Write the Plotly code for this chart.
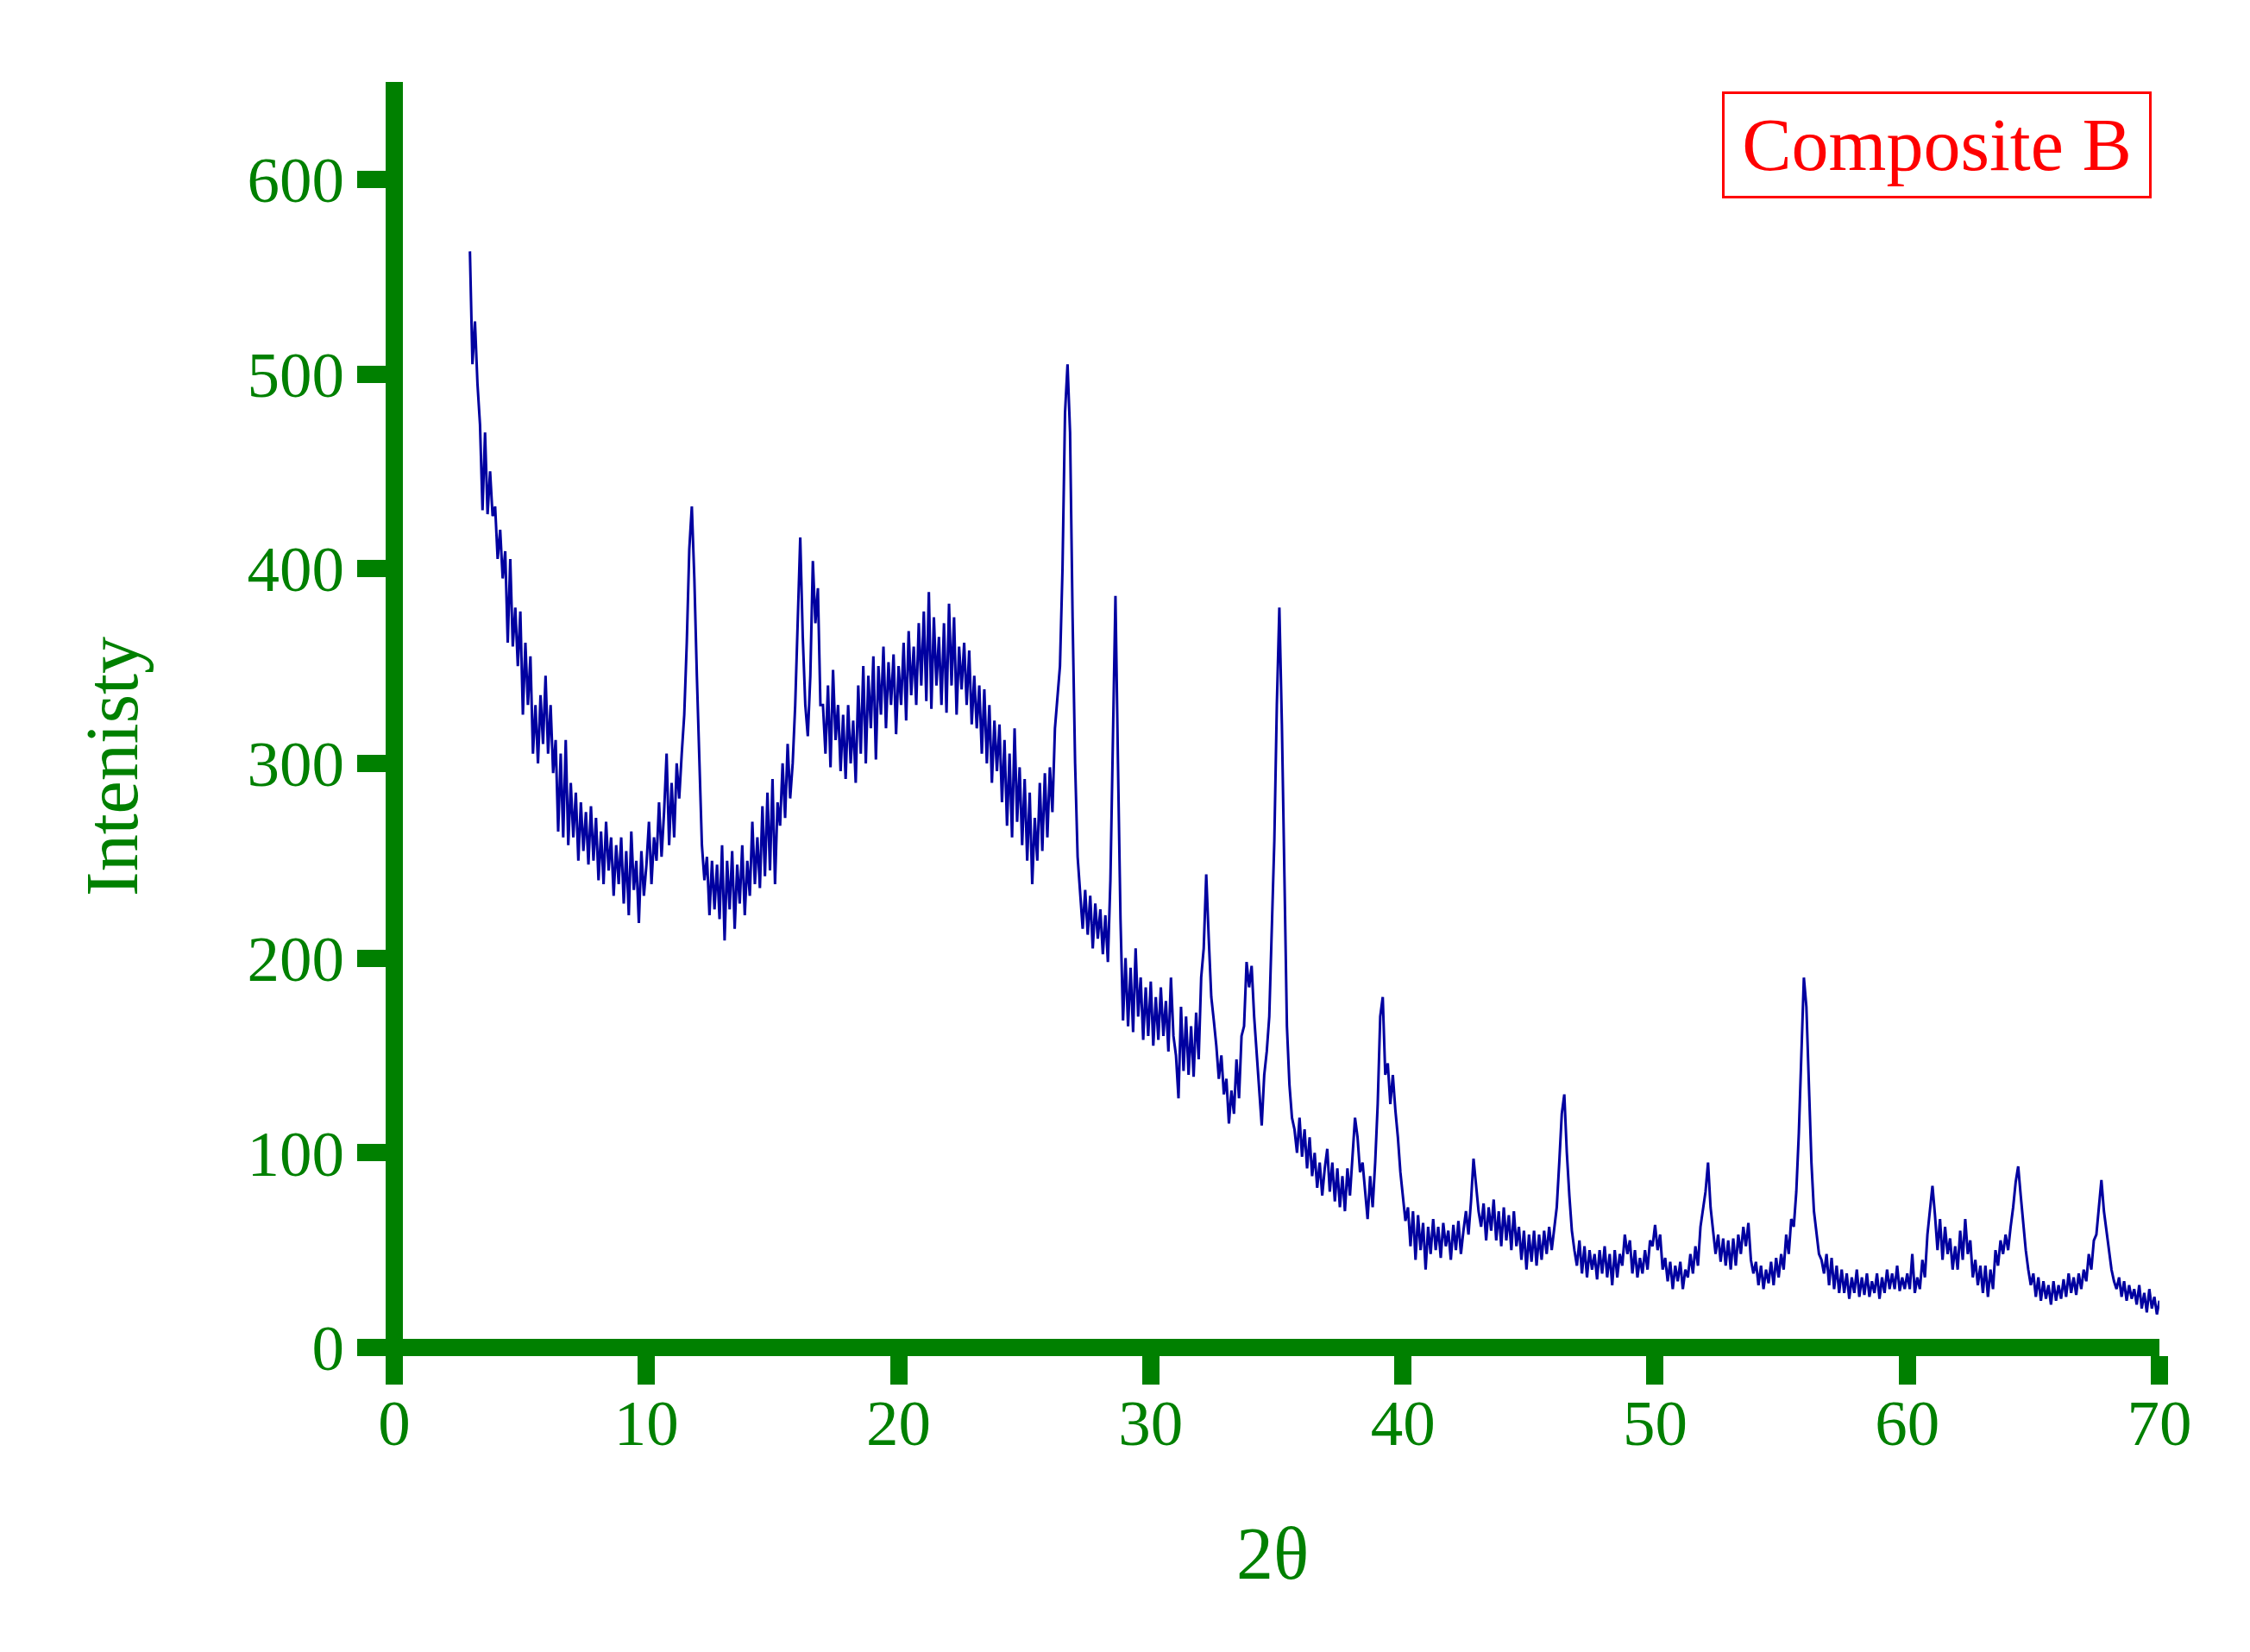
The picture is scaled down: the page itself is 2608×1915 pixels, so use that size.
import plotly.graph_objects as go

# ---- data ----
two_theta_start = 3.0
two_theta_step = 0.1
intensity = [
    563, 505, 527, 495, 474, 430, 470, 428, 450, 427,   # 3.0 - 3.9
    432, 405, 420, 395, 409, 362, 405, 360, 380, 350,   # 4
    378, 325, 362, 330, 355, 305, 330, 300, 335, 310,   # 5
    345, 305, 330, 295, 312, 265, 305, 262, 312, 258,   # 6
    290, 262, 285, 250, 280, 255, 275, 248, 278, 250,   # 7
    272, 240, 265, 238, 270, 245, 262, 232, 258, 238,   # 8
    262, 228, 255, 222, 265, 235, 250, 218, 255, 232,   # 9
    248, 270, 238, 262, 250, 280, 252, 275, 305, 258,   # 10
    290, 262, 300, 282, 305, 325, 362, 410, 432, 395,   # 11
    345, 300, 258, 240, 252, 222, 250, 225, 248, 220,   # 12
    258, 209, 250, 225, 255, 215, 248, 228, 258, 222,   # 13
    250, 232, 270, 238, 262, 236, 278, 242, 285, 245,   # 14
    292, 238, 280, 268, 300, 272, 310, 282, 300, 330,   # 15
    375, 416, 365, 330, 314, 345, 404, 372, 390, 330,   # 16
    330, 305, 340, 298, 348, 312, 330, 296, 325, 292,   # 17
    330, 300, 322, 290, 340, 305, 350, 300, 345, 318,   # 18
    355, 302, 350, 325, 360, 318, 352, 330, 356, 315,   # 19
    350, 330, 362, 322, 368, 335, 360, 330, 372, 340,   # 20
    378, 332, 388, 328, 375, 340, 365, 330, 372, 326,   # 21
    382, 340, 375, 325, 360, 338, 362, 330, 358, 320,   # 22
    345, 318, 340, 305, 338, 300, 330, 290, 322, 296,   # 23
    320, 280, 312, 268, 305, 262, 318, 270, 298, 258,   # 24
    292, 250, 285, 238, 272, 250, 290, 255, 295, 262,   # 25
    298, 275, 318, 335, 350, 400, 480, 505, 470, 375,   # 26
    300, 252, 232, 215, 235, 212, 232, 205, 228, 210,   # 27
    225, 202, 222, 198, 240, 320, 386, 300, 220, 168,   # 28
    200, 165, 195, 162, 205, 170, 190, 158, 185, 160,   # 29
    188, 155, 180, 158, 185, 160, 178, 152, 190, 160,   # 30
    150, 128, 175, 142, 170, 140, 165, 139, 172, 148,   # 31
    190, 205, 243, 210, 180, 168, 155, 138, 150, 130,   # 32
    138, 115, 132, 120, 148, 128, 160, 165, 198, 185,   # 33
    196, 170, 150, 135, 114, 140, 152, 170, 215, 260,   # 34
    330, 380, 320, 235, 165, 135, 118, 112, 100, 118,   # 35
    98, 112, 92, 108, 88, 100, 82, 95, 78, 92,          # 36
    102, 80, 95, 75, 92, 72, 88, 70, 92, 78,            # 37
    100, 118, 108, 90, 95, 80, 66, 88, 72, 95,          # 38
    125, 170, 180, 140, 146, 125, 140, 122, 108, 90,    # 39
    78, 65, 72, 52, 70, 45, 68, 50, 64, 40,             # 40
    62, 48, 66, 50, 62, 46, 64, 52, 60, 45,             # 41
    63, 50, 65, 48, 60, 70, 58, 75, 97, 85,             # 42
    70, 62, 74, 55, 72, 60, 76, 55, 70, 52,             # 43
    72, 55, 68, 50, 70, 52, 62, 45, 60, 40,             # 44
    58, 44, 60, 42, 58, 45, 60, 48, 62, 50,             # 45
    62, 72, 95, 120, 130, 100, 78, 60, 50, 42,          # 46
    55, 38, 52, 36, 50, 40, 48, 35, 50, 38,             # 47
    52, 36, 48, 32, 50, 36, 48, 42, 58, 48,             # 48
    55, 38, 50, 36, 46, 38, 50, 40, 55, 52,             # 49
    63, 50, 58, 40, 46, 34, 44, 30, 42, 34,             # 50
    44, 30, 40, 36, 48, 38, 52, 42, 62, 72,             # 51
    80, 95, 72, 60, 48, 58, 44, 56, 42, 55,             # 52
    40, 56, 42, 58, 48, 62, 52, 64, 45, 38,             # 53
    44, 32, 42, 30, 40, 33, 44, 32, 46, 36,             # 54
    48, 40, 58, 48, 66, 62, 80, 110, 150, 190,          # 55
    175, 130, 95, 70, 60, 48, 45, 38, 48, 32,           # 56
    46, 30, 42, 28, 40, 28, 38, 25, 36, 28,             # 57
    40, 26, 36, 27, 38, 26, 34, 28, 38, 25,             # 58
    36, 28, 40, 30, 38, 30, 42, 29, 36, 30,             # 59
    38, 30, 48, 28, 36, 30, 45, 36, 58, 72,             # 60
    83, 68, 50, 66, 45, 62, 48, 56, 40, 52,             # 61
    40, 60, 45, 66, 48, 55, 36, 45, 32, 42,             # 62
    28, 42, 26, 40, 30, 50, 42, 55, 48, 58,             # 63
    50, 62, 72, 85, 93, 78, 62, 50, 40, 32,             # 64
    38, 26, 36, 24, 34, 25, 32, 22, 34, 24,             # 65
    32, 25, 35, 26, 38, 28, 36, 27, 38, 30,             # 66
    40, 34, 48, 40, 55, 58, 72, 86, 70, 60,             # 67
    50, 40, 34, 30, 36, 26, 34, 24, 32, 25,             # 68
    30, 22, 32, 20, 28, 18, 30, 20, 26, 17,             # 69
    24,                                                 # 70
]
two_theta = [round(two_theta_start + i * two_theta_step, 2) for i in range(len(intensity))]

x_tick_values = [0, 10, 20, 30, 40, 50, 60, 70]
y_tick_values = [0, 100, 200, 300, 400, 500, 600]
x_title = "2θ"
y_title = "Intenisty"
label_text = "Composite B"

# ---- style ----
GREEN = "#008000"
BLUE = "#0000A0"
RED = "#FF0000"
FONT = "Liberation Serif"

AXIS_W = 20            # thickness of axis lines / ticks (px)
HALF = AXIS_W / 2
FIG_W, FIG_H = 2600, 1907
M_L, M_R, M_T, M_B = 439, 105, 87, 343
PLOT_W = FIG_W - M_L - M_R
PLOT_H = FIG_H - M_T - M_B
X_MAX, Y_MAX = 70, 650
# the plot area reaches half an axis width past the axis lines so they meet at the corner
x_px_per_unit = (PLOT_W - HALF) / X_MAX
y_px_per_unit = (PLOT_H - HALF) / Y_MAX
x_min = -HALF / x_px_per_unit
y_min = -HALF / y_px_per_unit

fig = go.Figure(
    go.Scatter(
        x=two_theta,
        y=intensity,
        mode="lines",
        line=dict(color=BLUE, width=3),
        showlegend=False,
        hoverinfo="x+y",
    )
)

axis_common = dict(
    showline=True,
    linewidth=AXIS_W,
    linecolor=GREEN,
    ticks="outside",
    ticklen=33,
    tickwidth=AXIS_W,
    tickcolor=GREEN,
    tickfont=dict(family=FONT, size=75, color=GREEN),
    showgrid=False,
    zeroline=False,
    anchor="free",
)

fig.update_xaxes(
    range=[x_min, X_MAX],
    tickvals=x_tick_values,
    position=HALF / PLOT_H,
    ticklabelstandoff=-20,
    title=dict(text=x_title, font=dict(family=FONT, size=86, color=GREEN), standoff=79),
    **axis_common,
)
fig.update_yaxes(
    range=[y_min, Y_MAX],
    tickvals=y_tick_values,
    position=HALF / PLOT_W,
    **axis_common,
)

# y-axis title (placed as rotated text, lower than the plot centre as in the original)
fig.add_annotation(
    xref="paper",
    yref="paper",
    x=-0.1542,
    y=0.4631,
    xanchor="center",
    yanchor="middle",
    text=y_title,
    textangle=-90,
    showarrow=False,
    font=dict(family=FONT, size=86, color=GREEN),
)

fig.add_annotation(
    xref="paper",
    yref="paper",
    x=0.8745,
    y=0.9506,
    xanchor="center",
    yanchor="middle",
    text=label_text,
    showarrow=False,
    font=dict(family=FONT, size=86, color=RED),
    bordercolor=RED,
    borderwidth=3,
    borderpad=11,
    width=470,
    height=96,
    bgcolor="white",
)

fig.update_layout(
    width=FIG_W,
    height=FIG_H,
    margin=dict(l=M_L, r=M_R, t=M_T, b=M_B),
    paper_bgcolor="white",
    plot_bgcolor="white",
    font=dict(family=FONT, color=GREEN),
)

fig.write_html("out.html")
